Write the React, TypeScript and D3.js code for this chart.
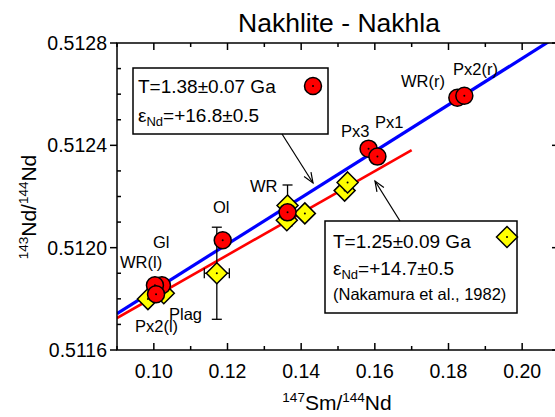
import React from "react";
import * as d3 from "d3";

// Nakhla (this study) - red circles
const nakhlaNames = ["WR(r)", "Px2(r)", "Px3", "Px1", "WR", "Ol", "Gl", "WR(l)", "Px2(l)"];
const nakhlaSm = [0.1824, 0.1843, 0.1583, 0.1607, 0.1363, 0.1187, 0.1022, 0.1003, 0.1006];
const nakhlaNd = [0.512586, 0.512594, 0.512387, 0.512356, 0.512138, 0.512029, 0.511853, 0.511853, 0.511818];

// Nakamura et al. 1982 - yellow diamonds
const nakamuraSm = [0.0984, 0.1027, 0.1171, 0.1361, 0.1363, 0.141, 0.1518, 0.1526];
const nakamuraNd = [0.511799, 0.511822, 0.5119, 0.512107, 0.512165, 0.512134, 0.512223, 0.512255];
const nakamuraSmErr = [0, 0, 0.0034, 0, 0, 0, 0, 0];
const nakamuraNdErr = [0, 0, 0.00018, 0, 0.00008, 0, 0, 0];

// isochrons: y = intercept + slope * x
const isoSlope = [0.00907, 0.00821];
const isoIntercept = [0.510926, 0.510986];
const isoXStart = [0.09, 0.09];
const isoXEnd = [0.22, 0.17];
const isoColors = ["#0000ff", "#ff0000"];

const xTicks = [0.1, 0.12, 0.14, 0.16, 0.18, 0.2];
const xMinor = [0.09, 0.11, 0.13, 0.15, 0.17, 0.19, 0.21];
const yTicks = [0.5116, 0.512, 0.5124, 0.5128];
const yMinor = [0.5117, 0.5118, 0.5119, 0.5121, 0.5122, 0.5123, 0.5125, 0.5126, 0.5127];

// point labels, in pixel layout
const labels = [
  { t: "Px2(r)", x: 453, y: 75 },
  { t: "WR(r)", x: 401, y: 87 },
  { t: "Px3", x: 341, y: 137 },
  { t: "Px1", x: 375, y: 128 },
  { t: "WR", x: 250, y: 192 },
  { t: "Ol", x: 213, y: 213 },
  { t: "Gl", x: 153, y: 248 },
  { t: "WR(l)", x: 120, y: 268 },
  { t: "Plag", x: 169, y: 320 },
  { t: "Px2(l)", x: 135, y: 332 },
];

const W = 555;
const H = 417;
const L = 117, R = 559, T = 43, B = 350;
const font = "'Liberation Sans', Arial, sans-serif";

function Arrow({ x1, y1, x2, y2 }: { x1: number; y1: number; x2: number; y2: number }) {
  const a = Math.atan2(y2 - y1, x2 - x1);
  const len = 11, sp = 0.38;
  const p1 = [x2 - len * Math.cos(a - sp), y2 - len * Math.sin(a - sp)];
  const p2 = [x2 - len * Math.cos(a + sp), y2 - len * Math.sin(a + sp)];
  return (
    <g stroke="#000" strokeWidth={1.2} fill="none">
      <line x1={x1} y1={y1} x2={x2} y2={y2} />
      <polyline points={`${p1[0]},${p1[1]} ${x2},${y2} ${p2[0]},${p2[1]}`} />
    </g>
  );
}

function Diamond({ cx, cy, s }: { cx: number; cy: number; s: number }) {
  return (
    <g>
      <path d={`M${cx},${cy - s}L${cx + s},${cy}L${cx},${cy + s}L${cx - s},${cy}Z`} fill="#ffff00" stroke="#000" strokeWidth={1.5} />
      <circle cx={cx} cy={cy} r={1} fill="#000" />
    </g>
  );
}

function Dot({ cx, cy, r }: { cx: number; cy: number; r: number }) {
  return (
    <g>
      <circle cx={cx} cy={cy} r={r} fill="#ff0000" stroke="#000" strokeWidth={1.5} />
      <circle cx={cx} cy={cy} r={1} fill="#000" />
    </g>
  );
}

export default function App() {
  const x = d3.scaleLinear().domain([0.09, 0.21]).range([L, R]);
  const y = d3.scaleLinear().domain([0.5116, 0.5128]).range([B, T]);
  const line = d3.line<number>().x((d) => x(d[0])).y((d) => y(d[1]));

  return (
    <div style={{ position: "fixed", left: 0, top: 0 }}>
      <svg width={W} height={H} style={{ display: "block", fontFamily: font }}>
        <defs>
          <clipPath id="plot">
            <rect x={L} y={T} width={R - L} height={B - T} />
          </clipPath>
        </defs>
        <rect width={W} height={H} fill="#fff" />

        <text x={339} y={32} fontSize={26.5} textAnchor="middle">Nakhlite - Nakhla</text>

        {/* isochrons */}
        <g clipPath="url(#plot)">
          {isoSlope.map((s, i) => {
            const pts: any = [isoXStart[i], isoXEnd[i]].map((v) => [v, isoIntercept[i] + s * v]);
            return <path key={i} d={line(pts) || ""} stroke={isoColors[i]} strokeWidth={i === 0 ? 3.2 : 2.6} fill="none" />;
          })}
        </g>

        {/* error bars */}
        <g stroke="#000" strokeWidth={1.3}>
          {nakamuraSm.map((v, i) => {
            const cx = x(v), cy = y(nakamuraNd[i]);
            const out: any[] = [];
            if (nakamuraNdErr[i] > 0) {
              const y1 = y(nakamuraNd[i] + nakamuraNdErr[i]);
              const y2 = y(nakamuraNd[i] - nakamuraNdErr[i]);
              out.push(<line key="v" x1={cx} x2={cx} y1={y1} y2={y2} />);
              out.push(<line key="vt" x1={cx - 5} x2={cx + 5} y1={y1} y2={y1} />);
              out.push(<line key="vb" x1={cx - 5} x2={cx + 5} y1={y2} y2={y2} />);
            }
            if (nakamuraSmErr[i] > 0) {
              const x1 = x(v - nakamuraSmErr[i]);
              const x2 = x(v + nakamuraSmErr[i]);
              out.push(<line key="h" x1={x1} x2={x2} y1={cy} y2={cy} />);
              out.push(<line key="hl" x1={x1} x2={x1} y1={cy - 5} y2={cy + 5} />);
              out.push(<line key="hr" x1={x2} x2={x2} y1={cy - 5} y2={cy + 5} />);
            }
            return <g key={i}>{out}</g>;
          })}
        </g>

        {nakamuraSm.map((v, i) => (
          <Diamond key={i} cx={x(v)} cy={y(nakamuraNd[i])} s={10.5} />
        ))}
        {nakhlaSm.map((v, i) => (
          <Dot key={nakhlaNames[i] + i} cx={x(v)} cy={y(nakhlaNd[i])} r={8.5} />
        ))}

        {/* labels */}
        <g fontSize={16.5} fill="#000">
          {labels.map((l) => (
            <text key={l.t} x={l.x} y={l.y}>{l.t}</text>
          ))}
        </g>

        {/* axes frame */}
        <rect x={L} y={T} width={R - L} height={B - T} fill="none" stroke="#000" strokeWidth={1.5} />
        <g stroke="#000" strokeWidth={1.5}>
          {xTicks.map((t) => (
            <g key={"x" + t}>
              <line x1={x(t)} x2={x(t)} y1={B} y2={B - 7} />
              <line x1={x(t)} x2={x(t)} y1={T} y2={T + 7} />
            </g>
          ))}
          {xMinor.map((t) => (
            <g key={"xm" + t}>
              <line x1={x(t)} x2={x(t)} y1={B} y2={B - 4} />
              <line x1={x(t)} x2={x(t)} y1={T} y2={T + 4} />
            </g>
          ))}
          {yTicks.map((t) => (
            <g key={"y" + t}>
              <line x1={L} x2={L - 7} y1={y(t)} y2={y(t)} />
              <line x1={R} x2={R - 7} y1={y(t)} y2={y(t)} />
            </g>
          ))}
          {yMinor.map((t) => (
            <g key={"ym" + t}>
              <line x1={L} x2={L + 4} y1={y(t)} y2={y(t)} />
              <line x1={R} x2={R - 4} y1={y(t)} y2={y(t)} />
            </g>
          ))}
        </g>
        <g fontSize={19.5}>
          {xTicks.map((t) => (
            <text key={"xl" + t} x={x(t)} y={378} textAnchor="middle">{d3.format(".2f")(t)}</text>
          ))}
          {yTicks.map((t) => (
            <text key={"yl" + t} x={107} y={y(t) + 7} textAnchor="end">{d3.format(".4f")(t)}</text>
          ))}
        </g>

        {/* axis titles */}
        <text x={337} y={410} fontSize={21} textAnchor="middle">
          <tspan fontSize={13.5} dy={-8}>147</tspan>
          <tspan dy={8}>Sm/</tspan>
          <tspan fontSize={13.5} dy={-8}>144</tspan>
          <tspan dy={8}>Nd</tspan>
        </text>
        <text transform="translate(36,207) rotate(-90)" fontSize={21} textAnchor="middle">
          <tspan fontSize={13.5} dy={-8}>143</tspan>
          <tspan dy={8}>Nd/</tspan>
          <tspan fontSize={13.5} dy={-8}>144</tspan>
          <tspan dy={8}>Nd</tspan>
        </text>

        {/* legend boxes */}
        <rect x={133} y={68} width={195} height={66} fill="#fff" stroke="#000" strokeWidth={1.5} />
        <text x={138} y={93} fontSize={19}>T=1.38±0.07 Ga</text>
        <text x={138} y={122} fontSize={19}>
          ε<tspan fontSize={13} dy={4}>Nd</tspan><tspan dy={-4}>=+16.8±0.5</tspan>
        </text>
        <Dot cx={313} cy={86} r={8.5} />
        <Arrow x1={282} y1={134} x2={313} y2={183} />

        <rect x={325} y={221} width={192} height={92} fill="#fff" stroke="#000" strokeWidth={1.5} />
        <text x={333} y={248} fontSize={19}>T=1.25±0.09 Ga</text>
        <text x={333} y={275} fontSize={19}>
          ε<tspan fontSize={13} dy={4}>Nd</tspan><tspan dy={-4}>=+14.7±0.5</tspan>
        </text>
        <text x={333} y={300} fontSize={16.5}>(Nakamura et al., 1982)</text>
        <Diamond cx={507} cy={237} s={10.5} />
        <Arrow x1={400} y1={221} x2={375} y2={181} />
      </svg>
    </div>
  );
}
